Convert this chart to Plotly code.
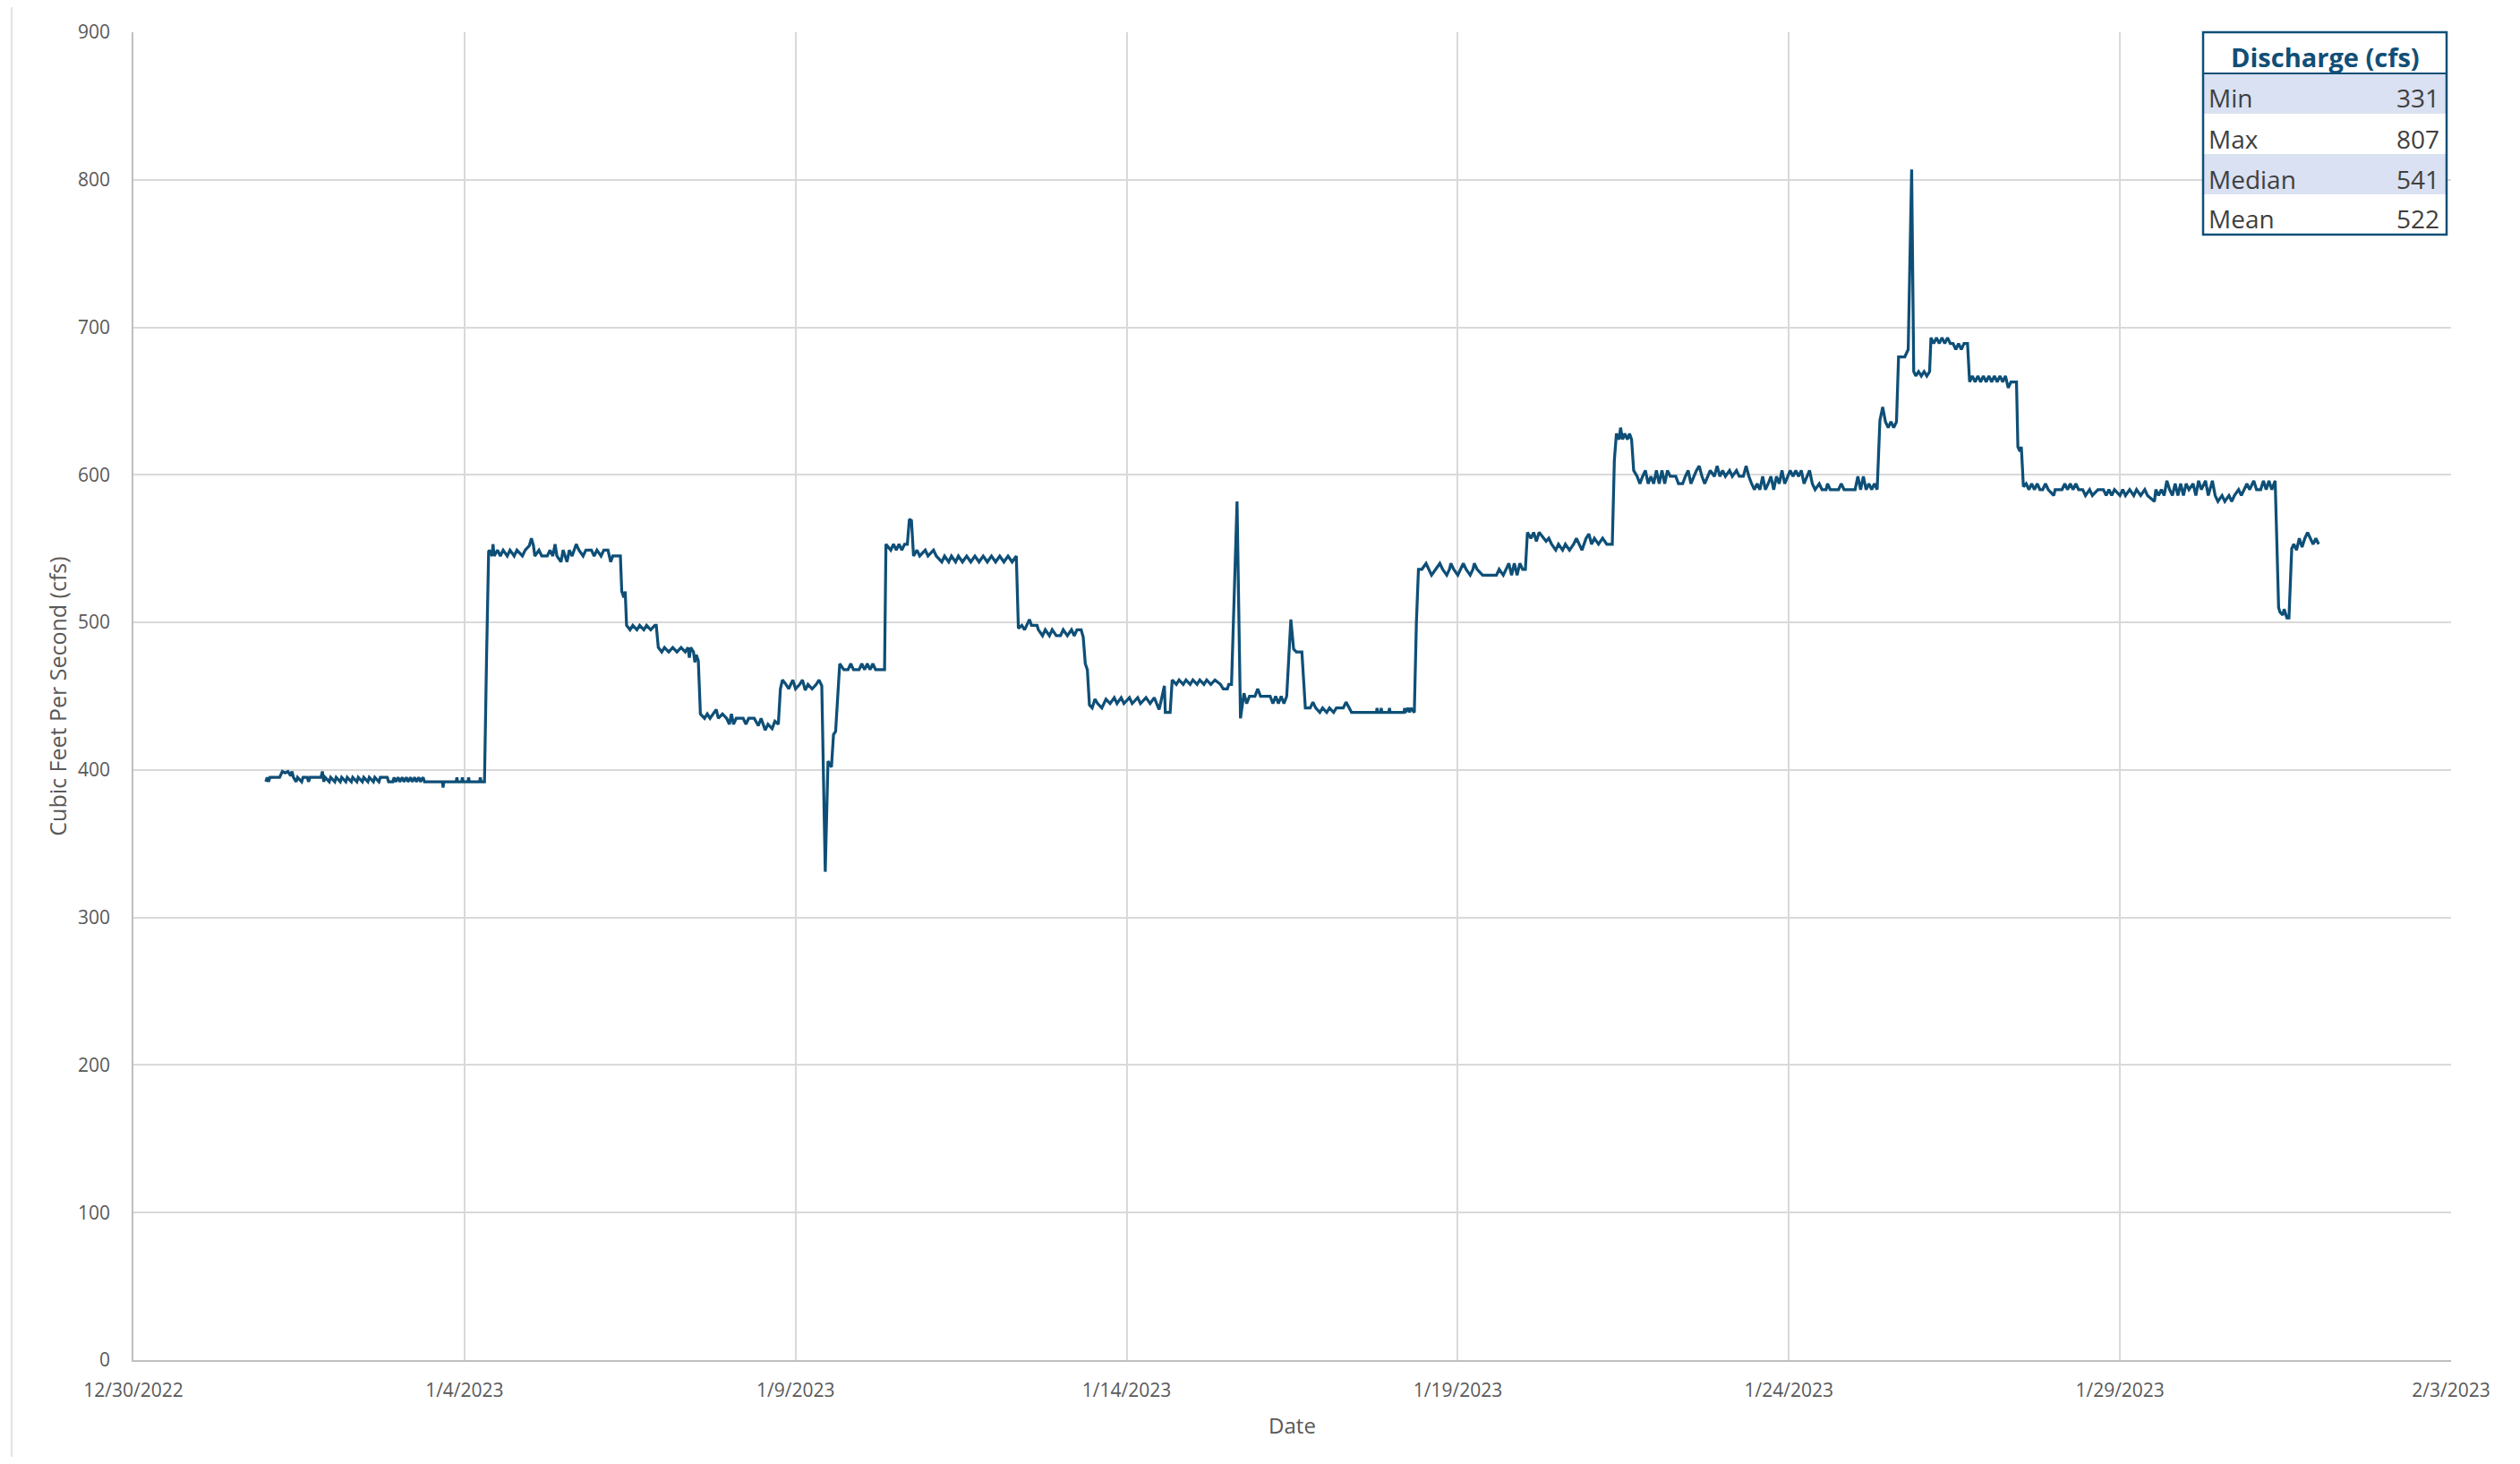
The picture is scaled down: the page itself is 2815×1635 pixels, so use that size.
import plotly.graph_objects as go

# ---------------- data ----------------
discharge_readings = [
    ("2023-01-01 00:00", 392), ("2023-01-01 00:30", 395), ("2023-01-01 01:00", 392), ("2023-01-01 01:30", 395),
    ("2023-01-01 03:00", 395), ("2023-01-01 05:00", 395), ("2023-01-01 06:00", 399), ("2023-01-01 07:00", 398),
    ("2023-01-01 08:00", 399), ("2023-01-01 09:00", 396), ("2023-01-01 09:30", 399), ("2023-01-01 10:00", 395),
    ("2023-01-01 11:00", 392), ("2023-01-01 11:30", 395), ("2023-01-01 13:00", 392), ("2023-01-01 13:30", 395),
    ("2023-01-01 15:00", 395), ("2023-01-01 15:30", 392), ("2023-01-01 16:00", 395), ("2023-01-01 20:00", 395),
    ("2023-01-01 20:30", 399), ("2023-01-01 21:00", 392), ("2023-01-01 21:30", 395), ("2023-01-01 23:00", 392),
    ("2023-01-01 23:30", 395), ("2023-01-02 01:00", 392), ("2023-01-02 01:30", 395), ("2023-01-02 03:00", 392),
    ("2023-01-02 03:30", 395), ("2023-01-02 05:00", 392), ("2023-01-02 05:30", 395), ("2023-01-02 07:00", 392),
    ("2023-01-02 07:30", 395), ("2023-01-02 09:00", 392), ("2023-01-02 09:30", 395), ("2023-01-02 11:00", 392),
    ("2023-01-02 11:30", 395), ("2023-01-02 13:00", 392), ("2023-01-02 13:30", 395), ("2023-01-02 15:00", 392),
    ("2023-01-02 15:30", 395), ("2023-01-02 17:00", 392), ("2023-01-02 17:30", 395), ("2023-01-02 20:00", 395),
    ("2023-01-02 20:30", 392), ("2023-01-02 22:00", 392), ("2023-01-02 22:30", 395), ("2023-01-02 23:00", 392),
    ("2023-01-03 00:00", 395), ("2023-01-03 00:30", 392), ("2023-01-03 01:30", 395), ("2023-01-03 02:00", 392),
    ("2023-01-03 03:00", 395), ("2023-01-03 03:30", 392), ("2023-01-03 04:30", 395), ("2023-01-03 05:00", 392),
    ("2023-01-03 06:00", 395), ("2023-01-03 06:30", 392), ("2023-01-03 07:30", 395), ("2023-01-03 08:00", 392),
    ("2023-01-03 09:00", 395), ("2023-01-03 09:30", 392), ("2023-01-03 11:00", 392), ("2023-01-03 16:00", 392),
    ("2023-01-03 16:15", 388), ("2023-01-03 16:30", 392), ("2023-01-03 21:00", 392), ("2023-01-03 21:15", 395),
    ("2023-01-03 21:30", 392), ("2023-01-03 23:00", 392), ("2023-01-03 23:15", 395), ("2023-01-03 23:30", 392),
    ("2023-01-04 01:15", 392), ("2023-01-04 01:30", 395), ("2023-01-04 01:45", 392), ("2023-01-04 05:30", 392),
    ("2023-01-04 05:45", 395), ("2023-01-04 06:00", 392), ("2023-01-04 07:15", 392), ("2023-01-04 07:45", 470),
    ("2023-01-04 08:00", 476), ("2023-01-04 08:45", 548), ("2023-01-04 09:00", 549), ("2023-01-04 10:00", 545),
    ("2023-01-04 10:20", 553), ("2023-01-04 10:45", 545), ("2023-01-04 12:00", 549), ("2023-01-04 13:00", 545),
    ("2023-01-04 14:00", 549), ("2023-01-04 15:30", 545), ("2023-01-04 16:30", 549), ("2023-01-04 18:00", 545),
    ("2023-01-04 19:00", 549), ("2023-01-04 21:00", 545), ("2023-01-04 22:00", 549), ("2023-01-04 23:30", 552),
    ("2023-01-05 00:15", 557), ("2023-01-05 01:00", 552), ("2023-01-05 01:30", 545), ("2023-01-05 03:00", 549),
    ("2023-01-05 04:00", 545), ("2023-01-05 06:00", 545), ("2023-01-05 07:00", 549), ("2023-01-05 08:00", 545),
    ("2023-01-05 08:50", 553), ("2023-01-05 09:30", 545), ("2023-01-05 11:00", 541), ("2023-01-05 11:45", 549),
    ("2023-01-05 12:30", 545), ("2023-01-05 13:10", 541), ("2023-01-05 14:00", 549), ("2023-01-05 15:00", 545),
    ("2023-01-05 16:30", 553), ("2023-01-05 17:30", 549), ("2023-01-05 19:00", 545), ("2023-01-05 20:00", 549),
    ("2023-01-05 22:00", 549), ("2023-01-05 23:00", 545), ("2023-01-06 00:00", 549), ("2023-01-06 01:30", 545),
    ("2023-01-06 02:30", 549), ("2023-01-06 04:00", 549), ("2023-01-06 05:00", 541), ("2023-01-06 05:45", 545),
    ("2023-01-06 08:30", 545), ("2023-01-06 09:00", 521), ("2023-01-06 09:45", 517), ("2023-01-06 10:15", 521),
    ("2023-01-06 10:45", 498), ("2023-01-06 12:00", 495), ("2023-01-06 13:00", 498), ("2023-01-06 14:30", 495),
    ("2023-01-06 15:30", 498), ("2023-01-06 17:00", 495), ("2023-01-06 18:00", 498), ("2023-01-06 19:30", 495),
    ("2023-01-06 21:00", 498), ("2023-01-06 21:30", 498), ("2023-01-06 22:15", 483), ("2023-01-06 23:30", 480),
    ("2023-01-07 00:30", 483), ("2023-01-07 02:00", 480), ("2023-01-07 03:30", 483), ("2023-01-07 05:00", 480),
    ("2023-01-07 06:30", 483), ("2023-01-07 08:00", 480), ("2023-01-07 09:00", 483), ("2023-01-07 09:30", 476),
    ("2023-01-07 10:00", 483), ("2023-01-07 11:00", 480), ("2023-01-07 11:30", 473), ("2023-01-07 12:00", 478),
    ("2023-01-07 12:45", 474), ("2023-01-07 13:30", 438), ("2023-01-07 15:00", 435), ("2023-01-07 16:00", 438),
    ("2023-01-07 17:00", 435), ("2023-01-07 18:00", 438), ("2023-01-07 19:15", 441), ("2023-01-07 20:00", 435),
    ("2023-01-07 21:30", 438), ("2023-01-07 23:00", 435), ("2023-01-08 00:00", 431), ("2023-01-08 00:45", 438),
    ("2023-01-08 01:30", 431), ("2023-01-08 02:30", 435), ("2023-01-08 05:00", 435), ("2023-01-08 06:00", 431),
    ("2023-01-08 07:00", 435), ("2023-01-08 09:00", 435), ("2023-01-08 10:30", 430), ("2023-01-08 11:30", 435),
    ("2023-01-08 13:00", 427), ("2023-01-08 14:00", 431), ("2023-01-08 15:30", 428), ("2023-01-08 16:30", 433),
    ("2023-01-08 17:45", 431), ("2023-01-08 18:30", 455), ("2023-01-08 19:15", 461), ("2023-01-08 20:30", 458),
    ("2023-01-08 21:30", 455), ("2023-01-08 23:00", 461), ("2023-01-09 00:00", 455), ("2023-01-09 01:30", 458),
    ("2023-01-09 02:30", 461), ("2023-01-09 03:30", 454), ("2023-01-09 04:30", 458), ("2023-01-09 06:00", 455),
    ("2023-01-09 07:30", 458), ("2023-01-09 08:30", 461), ("2023-01-09 09:30", 457), ("2023-01-09 10:45", 331),
    ("2023-01-09 11:45", 406), ("2023-01-09 13:00", 402), ("2023-01-09 13:45", 424), ("2023-01-09 14:30", 426),
    ("2023-01-09 15:00", 444), ("2023-01-09 16:00", 472), ("2023-01-09 17:30", 468), ("2023-01-09 19:00", 468),
    ("2023-01-09 20:00", 472), ("2023-01-09 21:00", 468), ("2023-01-09 23:00", 468), ("2023-01-10 00:00", 472),
    ("2023-01-10 01:00", 468), ("2023-01-10 02:00", 472), ("2023-01-10 03:00", 468), ("2023-01-10 04:00", 472),
    ("2023-01-10 05:00", 468), ("2023-01-10 08:15", 468), ("2023-01-10 08:45", 553), ("2023-01-10 10:30", 549),
    ("2023-01-10 11:30", 553), ("2023-01-10 12:30", 549), ("2023-01-10 13:30", 553), ("2023-01-10 14:30", 549),
    ("2023-01-10 15:30", 553), ("2023-01-10 16:30", 553), ("2023-01-10 17:15", 570), ("2023-01-10 18:00", 569),
    ("2023-01-10 18:45", 545), ("2023-01-10 20:00", 549), ("2023-01-10 21:00", 545), ("2023-01-10 23:00", 549),
    ("2023-01-11 00:00", 545), ("2023-01-11 02:00", 549), ("2023-01-11 03:00", 545), ("2023-01-11 05:00", 541),
    ("2023-01-11 06:00", 545), ("2023-01-11 07:30", 541), ("2023-01-11 08:30", 545), ("2023-01-11 10:00", 541),
    ("2023-01-11 11:00", 545), ("2023-01-11 12:30", 541), ("2023-01-11 14:00", 545), ("2023-01-11 15:30", 541),
    ("2023-01-11 17:00", 545), ("2023-01-11 18:30", 541), ("2023-01-11 20:00", 545), ("2023-01-11 21:30", 541),
    ("2023-01-11 23:00", 545), ("2023-01-12 00:30", 541), ("2023-01-12 02:00", 545), ("2023-01-12 03:30", 541),
    ("2023-01-12 05:00", 545), ("2023-01-12 06:30", 541), ("2023-01-12 08:00", 545), ("2023-01-12 08:45", 496),
    ("2023-01-12 10:00", 498), ("2023-01-12 11:00", 495), ("2023-01-12 12:45", 502), ("2023-01-12 13:30", 498),
    ("2023-01-12 15:30", 498), ("2023-01-12 16:00", 495), ("2023-01-12 17:30", 491), ("2023-01-12 18:30", 495),
    ("2023-01-12 20:00", 491), ("2023-01-12 21:00", 495), ("2023-01-12 22:30", 491), ("2023-01-13 00:00", 491),
    ("2023-01-13 01:00", 495), ("2023-01-13 02:30", 491), ("2023-01-13 04:00", 495), ("2023-01-13 05:00", 491),
    ("2023-01-13 06:00", 495), ("2023-01-13 07:30", 495), ("2023-01-13 08:15", 490), ("2023-01-13 09:00", 472),
    ("2023-01-13 09:45", 468), ("2023-01-13 10:30", 444), ("2023-01-13 11:30", 442), ("2023-01-13 12:30", 448),
    ("2023-01-13 13:30", 445), ("2023-01-13 15:00", 442), ("2023-01-13 16:30", 448), ("2023-01-13 18:00", 445),
    ("2023-01-13 19:30", 449), ("2023-01-13 20:30", 445), ("2023-01-13 22:00", 449), ("2023-01-13 23:00", 445),
    ("2023-01-14 01:00", 449), ("2023-01-14 02:00", 445), ("2023-01-14 04:00", 449), ("2023-01-14 05:00", 445),
    ("2023-01-14 07:00", 449), ("2023-01-14 08:30", 445), ("2023-01-14 10:00", 449), ("2023-01-14 11:45", 441),
    ("2023-01-14 12:30", 447), ("2023-01-14 13:40", 457), ("2023-01-14 14:00", 439), ("2023-01-14 15:45", 439),
    ("2023-01-14 16:30", 461), ("2023-01-14 18:00", 458), ("2023-01-14 19:00", 461), ("2023-01-14 20:30", 458),
    ("2023-01-14 21:30", 461), ("2023-01-14 23:00", 458), ("2023-01-15 00:00", 461), ("2023-01-15 01:30", 458),
    ("2023-01-15 02:30", 461), ("2023-01-15 04:00", 458), ("2023-01-15 05:00", 461), ("2023-01-15 06:30", 458),
    ("2023-01-15 08:00", 461), ("2023-01-15 10:00", 458), ("2023-01-15 11:00", 455), ("2023-01-15 12:30", 455),
    ("2023-01-15 13:00", 458), ("2023-01-15 14:00", 458), ("2023-01-15 16:00", 582), ("2023-01-15 17:15", 435),
    ("2023-01-15 18:30", 452), ("2023-01-15 19:30", 445), ("2023-01-15 20:30", 450), ("2023-01-15 22:30", 450),
    ("2023-01-15 23:30", 455), ("2023-01-16 00:30", 450), ("2023-01-16 04:00", 450), ("2023-01-16 05:00", 445),
    ("2023-01-16 06:00", 450), ("2023-01-16 07:00", 445), ("2023-01-16 08:00", 450), ("2023-01-16 09:00", 445),
    ("2023-01-16 10:00", 450), ("2023-01-16 11:30", 502), ("2023-01-16 12:30", 482), ("2023-01-16 13:30", 480),
    ("2023-01-16 15:30", 480), ("2023-01-16 16:45", 442), ("2023-01-16 18:30", 442), ("2023-01-16 19:30", 446),
    ("2023-01-16 20:30", 442), ("2023-01-16 22:00", 439), ("2023-01-16 23:00", 442), ("2023-01-17 00:30", 439),
    ("2023-01-17 01:30", 442), ("2023-01-17 03:00", 439), ("2023-01-17 04:00", 442), ("2023-01-17 06:30", 442),
    ("2023-01-17 07:30", 446), ("2023-01-17 08:30", 442), ("2023-01-17 09:30", 439), ("2023-01-17 18:30", 439),
    ("2023-01-17 18:45", 442), ("2023-01-17 19:00", 439), ("2023-01-17 20:00", 439), ("2023-01-17 20:15", 442),
    ("2023-01-17 20:30", 439), ("2023-01-17 23:00", 439), ("2023-01-17 23:15", 442), ("2023-01-17 23:30", 439),
    ("2023-01-18 04:30", 439), ("2023-01-18 04:45", 442), ("2023-01-18 05:00", 439), ("2023-01-18 06:00", 442),
    ("2023-01-18 06:30", 439), ("2023-01-18 07:00", 442), ("2023-01-18 08:15", 439), ("2023-01-18 09:00", 500),
    ("2023-01-18 09:45", 536), ("2023-01-18 11:00", 536), ("2023-01-18 12:30", 540), ("2023-01-18 13:30", 536),
    ("2023-01-18 14:30", 532), ("2023-01-18 16:00", 536), ("2023-01-18 17:30", 540), ("2023-01-18 18:30", 536),
    ("2023-01-18 20:00", 532), ("2023-01-18 21:00", 536), ("2023-01-18 21:30", 540), ("2023-01-18 22:30", 536),
    ("2023-01-19 00:00", 532), ("2023-01-19 01:00", 536), ("2023-01-19 02:00", 540), ("2023-01-19 03:00", 536),
    ("2023-01-19 04:30", 532), ("2023-01-19 05:30", 536), ("2023-01-19 06:00", 540), ("2023-01-19 07:00", 536),
    ("2023-01-19 09:00", 532), ("2023-01-19 14:00", 532), ("2023-01-19 15:00", 536), ("2023-01-19 16:30", 532),
    ("2023-01-19 17:30", 536), ("2023-01-19 18:30", 540), ("2023-01-19 19:30", 532), ("2023-01-19 20:30", 540),
    ("2023-01-19 21:30", 532), ("2023-01-19 22:30", 540), ("2023-01-19 23:30", 536), ("2023-01-20 00:30", 536),
    ("2023-01-20 01:15", 561), ("2023-01-20 02:30", 557), ("2023-01-20 03:30", 561), ("2023-01-20 04:30", 555),
    ("2023-01-20 05:30", 561), ("2023-01-20 07:00", 557), ("2023-01-20 08:00", 555), ("2023-01-20 09:00", 557),
    ("2023-01-20 10:00", 553), ("2023-01-20 11:30", 549), ("2023-01-20 12:30", 553), ("2023-01-20 14:00", 549),
    ("2023-01-20 15:00", 553), ("2023-01-20 16:30", 549), ("2023-01-20 18:00", 553), ("2023-01-20 19:00", 557),
    ("2023-01-20 20:00", 553), ("2023-01-20 21:00", 549), ("2023-01-20 22:30", 557), ("2023-01-20 23:30", 560),
    ("2023-01-21 00:30", 553), ("2023-01-21 01:30", 557), ("2023-01-21 03:00", 553), ("2023-01-21 04:30", 557),
    ("2023-01-21 06:00", 553), ("2023-01-21 08:00", 553), ("2023-01-21 08:45", 610), ("2023-01-21 09:30", 628),
    ("2023-01-21 10:30", 624), ("2023-01-21 11:00", 632), ("2023-01-21 11:45", 624), ("2023-01-21 12:30", 628),
    ("2023-01-21 13:30", 624), ("2023-01-21 14:15", 628), ("2023-01-21 15:00", 624), ("2023-01-21 15:45", 603),
    ("2023-01-21 17:00", 599), ("2023-01-21 18:00", 594), ("2023-01-21 19:00", 599), ("2023-01-21 20:00", 603),
    ("2023-01-21 21:00", 594), ("2023-01-21 22:00", 599), ("2023-01-21 23:00", 594), ("2023-01-22 00:00", 603),
    ("2023-01-22 01:00", 594), ("2023-01-22 02:00", 603), ("2023-01-22 03:00", 594), ("2023-01-22 04:00", 603),
    ("2023-01-22 05:00", 599), ("2023-01-22 07:00", 599), ("2023-01-22 08:00", 594), ("2023-01-22 09:30", 594),
    ("2023-01-22 10:30", 599), ("2023-01-22 11:30", 603), ("2023-01-22 12:30", 594), ("2023-01-22 13:30", 599),
    ("2023-01-22 14:30", 603), ("2023-01-22 15:30", 606), ("2023-01-22 16:30", 599), ("2023-01-22 17:30", 594),
    ("2023-01-22 18:30", 599), ("2023-01-22 19:30", 603), ("2023-01-22 21:00", 599), ("2023-01-22 22:00", 606),
    ("2023-01-22 23:00", 599), ("2023-01-23 00:00", 603), ("2023-01-23 01:00", 599), ("2023-01-23 02:30", 603),
    ("2023-01-23 03:30", 599), ("2023-01-23 05:00", 603), ("2023-01-23 06:00", 599), ("2023-01-23 07:30", 599),
    ("2023-01-23 08:30", 606), ("2023-01-23 09:30", 599), ("2023-01-23 10:30", 594), ("2023-01-23 11:30", 590),
    ("2023-01-23 12:30", 594), ("2023-01-23 13:30", 590), ("2023-01-23 14:30", 599), ("2023-01-23 15:30", 590),
    ("2023-01-23 16:30", 594), ("2023-01-23 17:30", 599), ("2023-01-23 18:30", 590), ("2023-01-23 19:30", 599),
    ("2023-01-23 20:30", 594), ("2023-01-23 21:30", 603), ("2023-01-23 22:30", 594), ("2023-01-23 23:30", 599),
    ("2023-01-24 00:30", 603), ("2023-01-24 01:30", 599), ("2023-01-24 02:30", 603), ("2023-01-24 03:30", 599),
    ("2023-01-24 04:30", 603), ("2023-01-24 05:30", 594), ("2023-01-24 06:30", 599), ("2023-01-24 07:30", 603),
    ("2023-01-24 08:30", 594), ("2023-01-24 09:30", 590), ("2023-01-24 11:00", 594), ("2023-01-24 12:00", 590),
    ("2023-01-24 13:30", 590), ("2023-01-24 14:00", 594), ("2023-01-24 15:00", 590), ("2023-01-24 18:00", 590),
    ("2023-01-24 19:00", 594), ("2023-01-24 20:00", 590), ("2023-01-25 00:00", 590), ("2023-01-25 01:00", 599),
    ("2023-01-25 02:00", 590), ("2023-01-25 03:00", 599), ("2023-01-25 04:00", 590), ("2023-01-25 05:00", 594),
    ("2023-01-25 06:00", 590), ("2023-01-25 07:00", 594), ("2023-01-25 08:00", 590), ("2023-01-25 09:00", 637),
    ("2023-01-25 10:00", 646), ("2023-01-25 11:00", 636), ("2023-01-25 12:00", 632), ("2023-01-25 13:00", 636),
    ("2023-01-25 14:00", 632), ("2023-01-25 15:00", 636), ("2023-01-25 15:45", 680), ("2023-01-25 18:00", 680),
    ("2023-01-25 19:15", 685), ("2023-01-25 20:30", 807), ("2023-01-25 21:15", 670), ("2023-01-25 22:00", 667),
    ("2023-01-25 23:00", 670), ("2023-01-26 00:00", 667), ("2023-01-26 01:00", 670), ("2023-01-26 02:00", 667),
    ("2023-01-26 03:00", 670), ("2023-01-26 03:30", 693), ("2023-01-26 04:30", 689), ("2023-01-26 05:30", 693),
    ("2023-01-26 06:30", 689), ("2023-01-26 07:30", 693), ("2023-01-26 08:30", 689), ("2023-01-26 09:30", 693),
    ("2023-01-26 10:30", 689), ("2023-01-26 11:30", 689), ("2023-01-26 12:30", 685), ("2023-01-26 13:30", 689),
    ("2023-01-26 14:30", 685), ("2023-01-26 15:30", 689), ("2023-01-26 16:45", 689), ("2023-01-26 17:30", 663),
    ("2023-01-26 18:30", 667), ("2023-01-26 19:30", 663), ("2023-01-26 20:30", 667), ("2023-01-26 21:30", 663),
    ("2023-01-26 22:30", 667), ("2023-01-26 23:30", 663), ("2023-01-27 00:30", 667), ("2023-01-27 01:30", 663),
    ("2023-01-27 02:30", 667), ("2023-01-27 03:30", 663), ("2023-01-27 04:30", 667), ("2023-01-27 05:30", 663),
    ("2023-01-27 06:30", 667), ("2023-01-27 07:30", 659), ("2023-01-27 08:30", 663), ("2023-01-27 10:30", 663),
    ("2023-01-27 11:00", 619), ("2023-01-27 11:45", 616), ("2023-01-27 12:15", 619), ("2023-01-27 13:00", 592),
    ("2023-01-27 14:00", 594), ("2023-01-27 15:00", 590), ("2023-01-27 16:00", 594), ("2023-01-27 17:00", 590),
    ("2023-01-27 18:00", 594), ("2023-01-27 19:00", 590), ("2023-01-27 20:00", 590), ("2023-01-27 21:00", 594),
    ("2023-01-27 22:00", 590), ("2023-01-28 00:00", 586), ("2023-01-28 00:30", 590), ("2023-01-28 03:00", 590),
    ("2023-01-28 04:00", 594), ("2023-01-28 05:00", 590), ("2023-01-28 06:00", 594), ("2023-01-28 07:00", 590),
    ("2023-01-28 08:00", 594), ("2023-01-28 09:00", 590), ("2023-01-28 10:30", 590), ("2023-01-28 11:30", 586),
    ("2023-01-28 13:00", 590), ("2023-01-28 14:00", 586), ("2023-01-28 16:00", 590), ("2023-01-28 18:00", 590),
    ("2023-01-28 19:00", 586), ("2023-01-28 20:00", 590), ("2023-01-28 21:00", 586), ("2023-01-28 22:00", 590),
    ("2023-01-29 00:00", 586), ("2023-01-29 01:00", 590), ("2023-01-29 02:00", 586), ("2023-01-29 03:30", 590),
    ("2023-01-29 05:00", 586), ("2023-01-29 06:00", 590), ("2023-01-29 07:30", 586), ("2023-01-29 09:00", 590),
    ("2023-01-29 10:00", 586), ("2023-01-29 12:30", 582), ("2023-01-29 13:00", 590), ("2023-01-29 14:00", 586),
    ("2023-01-29 15:00", 590), ("2023-01-29 16:00", 586), ("2023-01-29 17:00", 596), ("2023-01-29 18:00", 590),
    ("2023-01-29 19:00", 586), ("2023-01-29 20:00", 594), ("2023-01-29 21:00", 586), ("2023-01-29 22:00", 594),
    ("2023-01-29 23:00", 586), ("2023-01-30 00:00", 594), ("2023-01-30 01:00", 590), ("2023-01-30 02:30", 594),
    ("2023-01-30 03:30", 586), ("2023-01-30 04:30", 596), ("2023-01-30 05:30", 590), ("2023-01-30 07:00", 596),
    ("2023-01-30 08:00", 586), ("2023-01-30 09:30", 596), ("2023-01-30 10:30", 586), ("2023-01-30 11:30", 582),
    ("2023-01-30 13:00", 586), ("2023-01-30 14:00", 582), ("2023-01-30 15:30", 586), ("2023-01-30 16:30", 582),
    ("2023-01-30 17:30", 586), ("2023-01-30 19:00", 590), ("2023-01-30 20:00", 586), ("2023-01-30 21:00", 590),
    ("2023-01-30 22:00", 594), ("2023-01-30 23:00", 590), ("2023-01-31 00:30", 596), ("2023-01-31 01:30", 590),
    ("2023-01-31 03:00", 590), ("2023-01-31 04:00", 596), ("2023-01-31 05:00", 590), ("2023-01-31 06:00", 596),
    ("2023-01-31 07:00", 590), ("2023-01-31 08:15", 596), ("2023-01-31 09:30", 510), ("2023-01-31 10:00", 507),
    ("2023-01-31 11:00", 505), ("2023-01-31 11:30", 509), ("2023-01-31 12:30", 503), ("2023-01-31 13:15", 503),
    ("2023-01-31 14:15", 550), ("2023-01-31 15:00", 553), ("2023-01-31 16:00", 549), ("2023-01-31 17:00", 557),
    ("2023-01-31 18:00", 551), ("2023-01-31 19:00", 557), ("2023-01-31 20:00", 561), ("2023-01-31 21:00", 557),
    ("2023-01-31 22:00", 553), ("2023-01-31 23:00", 557), ("2023-02-01 00:00", 553),
]
times = [t for t, _ in discharge_readings]
discharge_cfs = [v for _, v in discharge_readings]

x_tick_dates = ["2022-12-30", "2023-01-04", "2023-01-09", "2023-01-14",
                "2023-01-19", "2023-01-24", "2023-01-29", "2023-02-03"]
x_tick_labels = ["12/30/2022", "1/4/2023", "1/9/2023", "1/14/2023",
                 "1/19/2023", "1/24/2023", "1/29/2023", "2/3/2023"]
y_tick_values = [0, 100, 200, 300, 400, 500, 600, 700, 800, 900]

stats_title = "Discharge (cfs)"
stat_labels = ["Min", "Max", "Median", "Mean"]
stat_values = [331, 807, 541, 522]

# ---------------- styling / layout ----------------
OFF = 8                      # default page (body) margin of the html page
W, H = 2815 - OFF, 1635 - 2 * OFF
# plot area in page pixels
PL, PR, PT, PB = 149, 2738, 36, 1519
LINE_COLOR = "#0E4F77"
TEXT = "#595959"
FONT = "Segoe UI, Open Sans, sans-serif"


def px2x(px):
    return (px - PL) / (PR - PL)


def py2y(py):
    return (PB - py) / (PB - PT)


fig = go.Figure()
fig.add_trace(go.Scatter(
    x=times, y=discharge_cfs, mode="lines",
    line=dict(color=LINE_COLOR, width=3.25),
    showlegend=False,
))

fig.update_layout(
    width=W, height=H,
    margin=dict(l=PL - OFF, r=W - (PR - OFF), t=PT - OFF, b=H - (PB - OFF), autoexpand=False),
    paper_bgcolor="white", plot_bgcolor="white",
    font=dict(family=FONT, color=TEXT, size=21),
    showlegend=False,
)

fig.update_xaxes(
    type="date",
    range=[x_tick_dates[0], x_tick_dates[-1]],
    tickmode="array", tickvals=x_tick_dates, ticktext=x_tick_labels,
    showgrid=True, gridcolor="#D9D9D9", gridwidth=1.5,
    showline=True, linecolor="#BFBFBF", linewidth=1.5,
    ticks="", ticklabelstandoff=14,
    tickfont=dict(size=21, color=TEXT, family=FONT),
    title=dict(text="Date", font=dict(size=24, color=TEXT, family=FONT), standoff=19),
    zeroline=False,
)
fig.update_yaxes(
    range=[0, 900],
    tickmode="array", tickvals=y_tick_values,
    showgrid=True, gridcolor="#D9D9D9", gridwidth=1.5,
    showline=True, linecolor="#BFBFBF", linewidth=1.5,
    ticks="", ticklabelstandoff=20,
    tickfont=dict(size=21, color=TEXT, family=FONT),
    title=dict(text="Cubic Feet Per Second (cfs)", font=dict(size=25, color=TEXT, family=FONT), standoff=5),
    zeroline=False,
)

shapes = []
# outer chart border
shapes.append(dict(type="rect", xref="paper", yref="paper",
                   x0=px2x(13), x1=px2x(2813), y0=py2y(1660), y1=py2y(7),
                   line=dict(color="#D9D9D9", width=1.5), fillcolor="rgba(0,0,0,0)", layer="below"))

# statistics table
TL, TR, TT = 2461, 2733, 36
HEADER_H, ROW_H = 46, 45
TB = TT + HEADER_H + ROW_H * len(stat_labels)
shapes.append(dict(type="rect", xref="paper", yref="paper",
                   x0=px2x(TL), x1=px2x(TR), y0=py2y(TB), y1=py2y(TT),
                   line=dict(width=0), fillcolor="white", layer="above"))
annotations = []
annotations.append(dict(xref="paper", yref="paper", x=px2x((TL + TR) / 2), y=py2y(TT + HEADER_H / 2 + 5),
                        text="<b>" + stats_title + "</b>", showarrow=False, xanchor="center", yanchor="middle",
                        font=dict(size=29, color="#114E76", family=FONT)))
for i, (lab, val) in enumerate(zip(stat_labels, stat_values)):
    top = TT + HEADER_H + ROW_H * i
    if i % 2 == 0:
        shapes.append(dict(type="rect", xref="paper", yref="paper",
                           x0=px2x(TL), x1=px2x(TR), y0=py2y(top + ROW_H), y1=py2y(top),
                           line=dict(width=0), fillcolor="#D9E1F2", layer="above"))
    cy = py2y(top + ROW_H / 2 + 5)
    annotations.append(dict(xref="paper", yref="paper", x=px2x(TL + 4), y=cy, text=lab, showarrow=False,
                            xanchor="left", yanchor="middle", font=dict(size=28, color="#3F3F3F", family=FONT)))
    annotations.append(dict(xref="paper", yref="paper", x=px2x(TR - 6), y=cy, text=str(val), showarrow=False,
                            xanchor="right", yanchor="middle", font=dict(size=28, color="#3F3F3F", family=FONT)))
# header separator and outer border
shapes.append(dict(type="line", xref="paper", yref="paper",
                   x0=px2x(TL), x1=px2x(TR), y0=py2y(TT + HEADER_H), y1=py2y(TT + HEADER_H),
                   line=dict(color=LINE_COLOR, width=2), layer="above"))
shapes.append(dict(type="rect", xref="paper", yref="paper",
                   x0=px2x(TL), x1=px2x(TR), y0=py2y(TB), y1=py2y(TT),
                   line=dict(color=LINE_COLOR, width=2.5), fillcolor="rgba(0,0,0,0)", layer="above"))

fig.update_layout(shapes=shapes, annotations=annotations)
fig.write_html("out.html")
